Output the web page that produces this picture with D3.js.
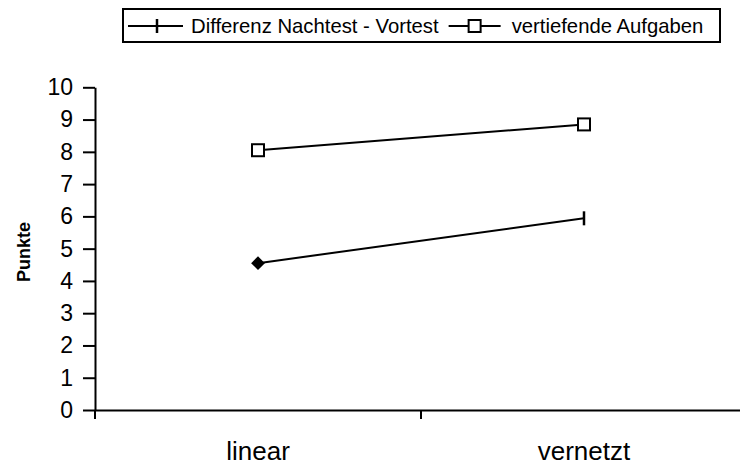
<!DOCTYPE html>
<html><head><meta charset="utf-8">
<script src="https://cdn.jsdelivr.net/npm/d3@7"></script>
<style>body{margin:0;background:#fff;} svg{display:block;font-family:"Liberation Sans",Arial,sans-serif;}</style>
</head><body>
<svg id="c" width="740" height="466"></svg>
<script>
const categories = ["linear", "vernetzt"];
const seriesNames = ["Differenz Nachtest - Vortest", "vertiefende Aufgaben"];
const diffValues = [4.55, 5.94];
const taskValues = [8.05, 8.85];
const yTicks = [0,1,2,3,4,5,6,7,8,9,10];
const yLabel = "Punkte";

const FONT = "'Liberation Sans', Arial, sans-serif";
const svg = d3.select("#c");
const x = d3.scaleBand().domain(categories).range([95, 747]);
const y = d3.scaleLinear().domain([0, 10]).range([410, 87.3]);

// y axis
const ya = svg.append("g").attr("transform","translate(95,0)")
  .call(d3.axisLeft(y).tickValues(yTicks).tickSize(12).tickPadding(10).tickSizeOuter(0));
ya.select(".domain").attr("stroke","#000").attr("stroke-width",2);
ya.selectAll(".tick line").attr("stroke","#000").attr("stroke-width",2);
ya.selectAll(".tick text").attr("font-size",23).attr("font-family",FONT).attr("fill","#000");

// x axis
const xa = svg.append("g").attr("transform","translate(0,410)")
  .call(d3.axisBottom(x).tickSize(0).tickSizeOuter(0));
xa.select(".domain").attr("stroke","#000").attr("stroke-width",2);
xa.selectAll(".tick text").attr("font-size",26).attr("font-family",FONT).attr("fill","#000")
  .attr("dy",null).attr("y",50);
// boundary ticks
const bounds = categories.map(c => x(c)).concat([x.range()[1]]);
svg.append("g").selectAll("line").data(bounds).join("line")
  .attr("x1", d=>d).attr("x2", d=>d).attr("y1",410).attr("y2",419)
  .attr("stroke","#000").attr("stroke-width",2);

// y label
svg.append("text").attr("transform","translate(30,252) rotate(-90)")
  .attr("text-anchor","middle").attr("font-weight","bold").attr("font-size",18).attr("font-family",FONT).text(yLabel);

const cx = c => x(c) + x.bandwidth()/2;
const line = d3.line().x((d,i)=>cx(categories[i])).y(d=>y(d));

svg.append("path").datum(diffValues).attr("d", line).attr("fill","none").attr("stroke","#000").attr("stroke-width",2);
svg.append("path").datum(taskValues).attr("d", line).attr("fill","none").attr("stroke","#000").attr("stroke-width",2);

// diff markers: diamond at first, vertical bar at second
svg.append("path").attr("d", d3.symbol().type(d3.symbolDiamond2).size(120)())
  .attr("transform",`translate(${cx(categories[0])},${y(diffValues[0])})`).attr("fill","#000");
svg.append("line").attr("x1",cx(categories[1])).attr("x2",cx(categories[1]))
  .attr("y1",y(diffValues[1])-7).attr("y2",y(diffValues[1])+7).attr("stroke","#000").attr("stroke-width",2.5);

// task markers: squares
svg.append("g").selectAll("rect").data(taskValues).join("rect")
  .attr("x",(d,i)=>cx(categories[i])-6).attr("y",d=>y(d)-6).attr("width",12).attr("height",12)
  .attr("fill","#fff").attr("stroke","#000").attr("stroke-width",2);

// legend
const lg = svg.append("g");
lg.append("rect").attr("x",123).attr("y",9).attr("width",597).attr("height",33)
  .attr("fill","#fff").attr("stroke","#000").attr("stroke-width",2);
let lx = 128;
const ly = 26;
lg.append("line").attr("x1",lx).attr("x2",lx+55).attr("y1",ly).attr("y2",ly).attr("stroke","#000").attr("stroke-width",2);
lg.append("line").attr("x1",lx+29).attr("x2",lx+29).attr("y1",ly-7).attr("y2",ly+7).attr("stroke","#000").attr("stroke-width",2.5);
const t1 = lg.append("text").attr("x",lx+63).attr("y",ly+7).attr("font-size",20.3).attr("font-family",FONT).text(seriesNames[0]);
lx = lx + 63 + t1.node().getComputedTextLength() + 10;
lg.append("line").attr("x1",lx).attr("x2",lx+52).attr("y1",ly).attr("y2",ly).attr("stroke","#000").attr("stroke-width",2);
lg.append("rect").attr("x",lx+20).attr("y",ly-6).attr("width",12).attr("height",12).attr("fill","#fff").attr("stroke","#000").attr("stroke-width",2);
lg.append("text").attr("x",lx+63).attr("y",ly+7).attr("font-size",20.3).attr("font-family",FONT).text(seriesNames[1]);
</script>
</body></html>
